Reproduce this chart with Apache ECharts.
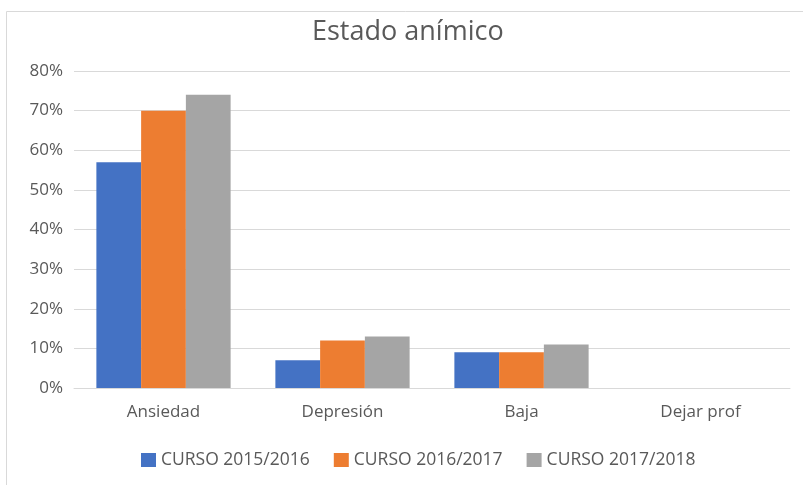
<!DOCTYPE html>
<html><head><meta charset="utf-8">
<script src="https://cdn.jsdelivr.net/npm/echarts@6/dist/echarts.min.js"></script>
<style>html,body{margin:0;padding:0;background:#fff}#c{width:803px;height:485px}</style>
</head><body><div id="c"></div>
<script>
const categories = ['Ansiedad', 'Depresión', 'Baja', 'Dejar prof'];
const seriesNames = ['CURSO 2015/2016', 'CURSO 2016/2017', 'CURSO 2017/2018'];
const curso2015 = [57, 7, 9, 0];
const curso2016 = [70, 12, 9, 0];
const curso2017 = [74, 13, 11, 0];
const yTicks = [0, 10, 20, 30, 40, 50, 60, 70, 80];
const colors = ['#4472C4', '#ED7D31', '#A5A5A5'];
const font = 'Open Sans';
const chart = echarts.init(document.getElementById('c'), null, {renderer: 'canvas'});
const data = [curso2015, curso2016, curso2017];
chart.setOption({
  animation: false,
  graphic: [
    {type: 'rect', shape: {x: 6.5, y: 11.5, width: 900, height: 600},
      style: {fill: 'none', stroke: '#d9d9d9', lineWidth: 1}, silent: true},
    {type: 'text', left: 312, top: 19, silent: true,
      style: {text: 'Estado anímico', x: 0, fontFamily: font, fontSize: 27, fill: '#595959'}}
  ],
  legend: {top: 446, left: 136, itemWidth: 15, itemHeight: 14, itemGap: 24,
    icon: 'rect',
    textStyle: {fontFamily: font, fontSize: 17.5, color: '#595959', padding: [0, 0, 0, 0]},
    data: seriesNames},
  grid: {left: 74, right: 13, top: 71, bottom: 97, containLabel: false},
  xAxis: {type: 'category', data: categories,
    axisTick: {show: false},
    axisLine: {lineStyle: {color: '#d9d9d9', width: 1}},
    axisLabel: {fontFamily: font, fontSize: 17, color: '#595959', margin: 16}},
  yAxis: {type: 'value', min: yTicks[0], max: yTicks[yTicks.length - 1], interval: 10,
    axisLine: {show: false}, axisTick: {show: false},
    splitLine: {lineStyle: {color: '#d9d9d9', width: 1}},
    axisLabel: {fontFamily: font, fontSize: 17, color: '#595959', margin: 11,
      formatter: v => v + '%'}},
  series: seriesNames.map((n, i) => ({
    name: n, type: 'bar', data: data[i], barGap: '0%', barCategoryGap: '25%',
    itemStyle: {color: colors[i]}
  }))
});
</script></body></html>
